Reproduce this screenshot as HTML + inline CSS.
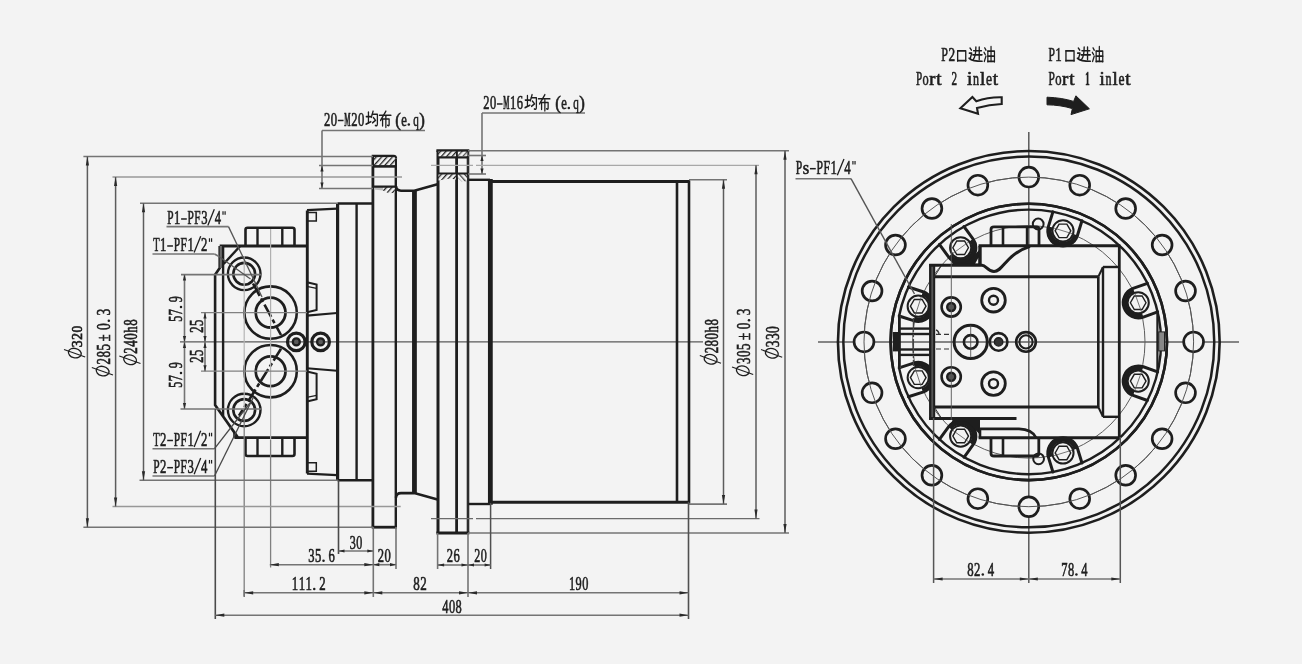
<!DOCTYPE html>
<html><head><meta charset="utf-8"><title>Drawing</title>
<style>
html,body{margin:0;padding:0;background:#f3f3f3;}
body{width:1302px;height:664px;overflow:hidden;}
svg{display:block;filter:grayscale(1) blur(0.3px);}
text{font-family:"Liberation Serif",serif;}
</style></head><body>
<svg width="1302" height="664" viewBox="0 0 1302 664">
<rect x="0" y="0" width="1302" height="664" fill="#f3f3f3"/>
<g id="side">
<defs><pattern id="hat" width="4" height="4" patternUnits="userSpaceOnUse" patternTransform="rotate(42)"><rect width="4" height="4" fill="#f3f3f3"/><line x1="0" y1="0" x2="0" y2="4" stroke="#222" stroke-width="2.6"/></pattern><pattern id="hat2" width="4" height="4" patternUnits="userSpaceOnUse" patternTransform="rotate(-42)"><rect width="4" height="4" fill="#f3f3f3"/><line x1="0" y1="0" x2="0" y2="4" stroke="#222" stroke-width="2.6"/></pattern></defs>
<line x1="180.00" y1="341.90" x2="703.00" y2="341.90" stroke="#5a5a5a" stroke-width="1.4" />
<path d="M245.5,245.50 V229.70 Q245.5,227.80 247.6,227.80 H292.4 Q294.5,227.80 294.5,229.70 V245.50" stroke="#1e1e1e" stroke-width="2.6" fill="none" />
<line x1="257.50" y1="228.00" x2="257.50" y2="245.50" stroke="#1e1e1e" stroke-width="2.4" />
<line x1="282.30" y1="228.00" x2="282.30" y2="245.50" stroke="#1e1e1e" stroke-width="2.4" />
<path d="M245.5,438.30 V454.10 Q245.5,456.00 247.6,456.00 H292.4 Q294.5,456.00 294.5,454.10 V438.30" stroke="#1e1e1e" stroke-width="2.6" fill="none" />
<line x1="257.50" y1="455.80" x2="257.50" y2="438.30" stroke="#1e1e1e" stroke-width="2.4" />
<line x1="282.30" y1="455.80" x2="282.30" y2="438.30" stroke="#1e1e1e" stroke-width="2.4" />
<line x1="219.70" y1="246.00" x2="307.00" y2="246.00" stroke="#1e1e1e" stroke-width="2.8" />
<path d="M219.7,246 V268 L215.1,274.7 V405 L238,437.6 H307 M238,437.6 H234.4" stroke="#1e1e1e" stroke-width="2.6" fill="none" />
<rect x="219.7" y="246" width="3.4" height="22" fill="#6a6a6a"/>
<line x1="223.10" y1="246.00" x2="223.10" y2="416.00" stroke="#1e1e1e" stroke-width="2.4" />
<line x1="240.20" y1="246.00" x2="223.60" y2="264.00" stroke="#1e1e1e" stroke-width="2.4" />
<line x1="234.40" y1="432.40" x2="234.40" y2="437.60" stroke="#1e1e1e" stroke-width="2.4" />
<line x1="307.30" y1="210.40" x2="307.30" y2="473.40" stroke="#1e1e1e" stroke-width="2.9" />
<line x1="307.00" y1="210.20" x2="337.00" y2="208.60" stroke="#1e1e1e" stroke-width="2.2" />
<path d="M307,221.00 H316.3 V212.60 H307" stroke="#1e1e1e" stroke-width="1.5" fill="none" />
<path d="M307,282.30 L316.6,284.60 V310.00 L307,312.30" stroke="#1e1e1e" stroke-width="2.0" fill="none" />
<line x1="308.00" y1="286.60" x2="316.60" y2="288.40" stroke="#1e1e1e" stroke-width="1.3" />
<line x1="307.00" y1="315.60" x2="337.00" y2="313.00" stroke="#1e1e1e" stroke-width="2.1" />
<line x1="337.60" y1="203.50" x2="372.90" y2="203.50" stroke="#1e1e1e" stroke-width="2.4" />
<line x1="307.00" y1="473.60" x2="337.00" y2="475.20" stroke="#1e1e1e" stroke-width="2.2" />
<path d="M307,462.80 H316.3 V471.20 H307" stroke="#1e1e1e" stroke-width="1.5" fill="none" />
<path d="M307,401.50 L316.6,399.20 V373.80 L307,371.50" stroke="#1e1e1e" stroke-width="2.0" fill="none" />
<line x1="308.00" y1="397.20" x2="316.60" y2="395.40" stroke="#1e1e1e" stroke-width="1.3" />
<line x1="307.00" y1="368.20" x2="337.00" y2="370.80" stroke="#1e1e1e" stroke-width="2.1" />
<line x1="337.60" y1="480.30" x2="372.90" y2="480.30" stroke="#1e1e1e" stroke-width="2.4" />
<line x1="337.60" y1="203.50" x2="337.60" y2="480.30" stroke="#1e1e1e" stroke-width="3.1999999999999997" />
<line x1="356.60" y1="203.50" x2="356.60" y2="480.30" stroke="#1e1e1e" stroke-width="2.4" />
<line x1="372.90" y1="156.00" x2="372.90" y2="527.20" stroke="#1e1e1e" stroke-width="2.8" />
<line x1="395.80" y1="158.40" x2="395.80" y2="527.20" stroke="#1e1e1e" stroke-width="2.4" />
<path d="M371.7,156.2 H393.6 Q395.8,156.2 395.8,158.6" stroke="#1e1e1e" stroke-width="2.8" fill="none" />
<line x1="371.70" y1="527.20" x2="396.90" y2="527.20" stroke="#1e1e1e" stroke-width="2.8" />
<rect x="374" y="157.2" width="20.8" height="8.6" fill="url(#hat)"/>
<line x1="372.90" y1="166.40" x2="395.80" y2="166.40" stroke="#1e1e1e" stroke-width="2.6" />
<line x1="372.90" y1="186.80" x2="395.80" y2="186.80" stroke="#1e1e1e" stroke-width="2.6" />
<path d="M383,187.8 H394.8 V192.6 L389,193.4 L383,190.4 Z" fill="url(#hat)"/><path d="M374,187.8 H383 V190.4 L374,189.6 Z" fill="#bdbdbd"/>
<path d="M396,186.2 Q396.3,190.7 401,190.7 H414.3 L437.5,184.3" stroke="#1e1e1e" stroke-width="2.6" fill="none" />
<path d="M396,497.60 Q396.3,493.10 401,493.10 H414.3 L437.5,499.50" stroke="#1e1e1e" stroke-width="2.6" fill="none" />
<line x1="414.45" y1="190.70" x2="414.45" y2="493.10" stroke="#1e1e1e" stroke-width="4.800000000000001" />
<line x1="438.00" y1="150.50" x2="438.00" y2="533.00" stroke="#1e1e1e" stroke-width="3.0" />
<line x1="456.60" y1="150.50" x2="456.60" y2="533.00" stroke="#1e1e1e" stroke-width="2.8" />
<line x1="468.00" y1="150.50" x2="468.00" y2="533.00" stroke="#2c2c2c" stroke-width="2.6" />
<line x1="436.40" y1="150.60" x2="469.30" y2="150.60" stroke="#1e1e1e" stroke-width="2.6" />
<line x1="436.40" y1="533.00" x2="469.30" y2="533.00" stroke="#1e1e1e" stroke-width="2.8" />
<rect x="438.5" y="151.5" width="17.5" height="5.3" fill="url(#hat)"/>
<rect x="457.8" y="151.5" width="9.6" height="4.6" fill="url(#hat)" opacity="0.75"/>
<line x1="437.50" y1="157.40" x2="468.30" y2="157.40" stroke="#1e1e1e" stroke-width="2.2" />
<line x1="437.50" y1="173.70" x2="468.30" y2="173.70" stroke="#1e1e1e" stroke-width="2.4" />
<path d="M438.5,174.6 H456 V179.5 L450,178.5 L438.5,180.5 Z" fill="url(#hat)"/>
<path d="M457.8,174.6 H467 V181 L462,182 L457.8,178 Z" fill="url(#hat2)" opacity="0.85"/>
<line x1="468.30" y1="179.80" x2="490.00" y2="179.80" stroke="#1e1e1e" stroke-width="2.4" />
<line x1="468.30" y1="504.00" x2="490.00" y2="504.00" stroke="#1e1e1e" stroke-width="2.4" />
<line x1="490.35" y1="179.00" x2="490.35" y2="504.80" stroke="#1e1e1e" stroke-width="4.800000000000001" />
<line x1="489.00" y1="181.50" x2="690.00" y2="181.50" stroke="#1e1e1e" stroke-width="3.0" />
<line x1="489.00" y1="502.30" x2="690.00" y2="502.30" stroke="#1e1e1e" stroke-width="3.0" />
<line x1="677.00" y1="181.50" x2="677.00" y2="502.30" stroke="#1e1e1e" stroke-width="2.6" />
<line x1="689.00" y1="180.40" x2="689.00" y2="503.40" stroke="#1e1e1e" stroke-width="2.6" />
<circle cx="244.20" cy="273.80" r="16.30" stroke="#1e1e1e" stroke-width="2.4" fill="none"/>
<circle cx="244.20" cy="273.80" r="10.90" stroke="#1e1e1e" stroke-width="2.6" fill="none"/>
<circle cx="270.60" cy="312.60" r="26.20" stroke="#1e1e1e" stroke-width="2.6" fill="none"/>
<circle cx="270.60" cy="312.60" r="14.90" stroke="#1e1e1e" stroke-width="2.8" fill="none"/>
<circle cx="244.20" cy="410.00" r="16.30" stroke="#1e1e1e" stroke-width="2.4" fill="none"/>
<circle cx="244.20" cy="410.00" r="10.90" stroke="#1e1e1e" stroke-width="2.6" fill="none"/>
<circle cx="270.60" cy="371.20" r="26.20" stroke="#1e1e1e" stroke-width="2.6" fill="none"/>
<circle cx="270.60" cy="371.20" r="14.90" stroke="#1e1e1e" stroke-width="2.8" fill="none"/>
<circle cx="296.30" cy="341.90" r="8.80" stroke="#1e1e1e" stroke-width="3.1999999999999997" fill="none"/>
<circle cx="296.30" cy="341.90" r="3.50" stroke="#1e1e1e" stroke-width="2.3" fill="#5a5a5a"/>
<circle cx="320.60" cy="341.90" r="8.80" stroke="#1e1e1e" stroke-width="3.1999999999999997" fill="none"/>
<circle cx="320.60" cy="341.90" r="3.50" stroke="#1e1e1e" stroke-width="2.3" fill="#5a5a5a"/>
<line x1="253.00" y1="283.50" x2="281.00" y2="335.00" stroke="#1e1e1e" stroke-width="2.6" stroke-dasharray="14 3 4 3"/>
<line x1="281.00" y1="348.80" x2="239.00" y2="415.80" stroke="#1e1e1e" stroke-width="2.6" stroke-dasharray="14 3 4 3"/>
<line x1="244.20" y1="256.00" x2="244.20" y2="409.00" stroke="#b4b4b4" stroke-width="1.2" />
<line x1="244.20" y1="409.00" x2="244.20" y2="596.00" stroke="#808080" stroke-width="1.3" />
<line x1="270.60" y1="229.00" x2="270.60" y2="440.00" stroke="#b0b0b0" stroke-width="1.2" />
<line x1="270.60" y1="440.00" x2="270.60" y2="567.50" stroke="#808080" stroke-width="1.3" />
<line x1="201.00" y1="312.60" x2="307.00" y2="312.60" stroke="#808080" stroke-width="1.3" />
<line x1="201.00" y1="371.20" x2="307.00" y2="371.20" stroke="#808080" stroke-width="1.3" />
</g>
<g id="front">
<line x1="818.00" y1="341.90" x2="1239.00" y2="341.90" stroke="#606060" stroke-width="1.5" />
<line x1="1028.80" y1="132.00" x2="1028.80" y2="583.00" stroke="#585858" stroke-width="1.5" />
<circle cx="1028.80" cy="341.90" r="190.85" stroke="#1e1e1e" stroke-width="2.6" fill="none"/>
<circle cx="1028.80" cy="341.90" r="185.45" stroke="#1e1e1e" stroke-width="2.5" fill="none"/>
<circle cx="1028.80" cy="341.90" r="164.80" stroke="#555" stroke-width="1.0" fill="none"/>
<circle cx="1193.60" cy="341.90" r="9.90" stroke="#1e1e1e" stroke-width="2.6999999999999997" fill="#f3f3f3"/>
<circle cx="1185.53" cy="290.97" r="9.90" stroke="#1e1e1e" stroke-width="2.6999999999999997" fill="#f3f3f3"/>
<circle cx="1162.13" cy="245.03" r="9.90" stroke="#1e1e1e" stroke-width="2.6999999999999997" fill="#f3f3f3"/>
<circle cx="1125.67" cy="208.57" r="9.90" stroke="#1e1e1e" stroke-width="2.6999999999999997" fill="#f3f3f3"/>
<circle cx="1079.73" cy="185.17" r="9.90" stroke="#1e1e1e" stroke-width="2.6999999999999997" fill="#f3f3f3"/>
<circle cx="1028.80" cy="177.10" r="9.90" stroke="#1e1e1e" stroke-width="2.6999999999999997" fill="#f3f3f3"/>
<circle cx="977.87" cy="185.17" r="9.90" stroke="#1e1e1e" stroke-width="2.6999999999999997" fill="#f3f3f3"/>
<circle cx="931.93" cy="208.57" r="9.90" stroke="#1e1e1e" stroke-width="2.6999999999999997" fill="#f3f3f3"/>
<circle cx="895.47" cy="245.03" r="9.90" stroke="#1e1e1e" stroke-width="2.6999999999999997" fill="#f3f3f3"/>
<circle cx="872.07" cy="290.97" r="9.90" stroke="#1e1e1e" stroke-width="2.6999999999999997" fill="#f3f3f3"/>
<circle cx="864.00" cy="341.90" r="9.90" stroke="#1e1e1e" stroke-width="2.6999999999999997" fill="#f3f3f3"/>
<circle cx="872.07" cy="392.83" r="9.90" stroke="#1e1e1e" stroke-width="2.6999999999999997" fill="#f3f3f3"/>
<circle cx="895.47" cy="438.77" r="9.90" stroke="#1e1e1e" stroke-width="2.6999999999999997" fill="#f3f3f3"/>
<circle cx="931.93" cy="475.23" r="9.90" stroke="#1e1e1e" stroke-width="2.6999999999999997" fill="#f3f3f3"/>
<circle cx="977.87" cy="498.63" r="9.90" stroke="#1e1e1e" stroke-width="2.6999999999999997" fill="#f3f3f3"/>
<circle cx="1028.80" cy="506.70" r="9.90" stroke="#1e1e1e" stroke-width="2.6999999999999997" fill="#f3f3f3"/>
<circle cx="1079.73" cy="498.63" r="9.90" stroke="#1e1e1e" stroke-width="2.6999999999999997" fill="#f3f3f3"/>
<circle cx="1125.67" cy="475.23" r="9.90" stroke="#1e1e1e" stroke-width="2.6999999999999997" fill="#f3f3f3"/>
<circle cx="1162.13" cy="438.77" r="9.90" stroke="#1e1e1e" stroke-width="2.6999999999999997" fill="#f3f3f3"/>
<circle cx="1185.53" cy="392.83" r="9.90" stroke="#1e1e1e" stroke-width="2.6999999999999997" fill="#f3f3f3"/>
<circle cx="1028.80" cy="341.90" r="164.80" stroke="#555" stroke-width="1.0" fill="none"/>
<circle cx="1028.80" cy="341.90" r="138.20" stroke="#1e1e1e" stroke-width="2.6" fill="none"/>
<circle cx="1028.80" cy="341.90" r="132.30" stroke="#1e1e1e" stroke-width="2.4" fill="none"/>
<circle cx="1028.80" cy="341.90" r="116.20" stroke="#5c5c5c" stroke-width="1.0" fill="none"/>
<path d="M1081.97,220.76 L1077.50,235.31 A15.2,15.2 0 0 1 1048.44,226.37 L1052.92,211.82" stroke="#1e1e1e" stroke-width="3.0" fill="none" stroke-linejoin="round" stroke-linecap="round"/>
<path d="M1075.97,234.84 A13.6,13.6 0 0 1 1049.97,226.84" stroke="#1e1e1e" stroke-width="4.800000000000001" fill="none" />
<circle cx="1062.97" cy="230.84" r="10.60" stroke="#1e1e1e" stroke-width="2.0" fill="#f3f3f3"/>
<polygon points="1070.77,230.84 1066.87,237.59 1059.07,237.59 1055.17,230.84 1059.07,224.08 1066.87,224.08" fill="none" stroke="#1e1e1e" stroke-width="1.4"/>
<line x1="1053.41" y1="227.90" x2="1072.53" y2="233.78" stroke="#555" stroke-width="0.8" />
<path d="M964.05,226.53 L972.98,238.86 A15.2,15.2 0 0 1 948.35,256.69 L939.42,244.35" stroke="#1e1e1e" stroke-width="3.0" fill="none" stroke-linejoin="round" stroke-linecap="round"/>
<path d="M971.68,239.80 A13.6,13.6 0 0 1 949.65,255.75" stroke="#1e1e1e" stroke-width="4.800000000000001" fill="none" />
<circle cx="960.66" cy="247.77" r="10.60" stroke="#1e1e1e" stroke-width="2.0" fill="#f3f3f3"/>
<polygon points="968.46,247.77 964.56,254.53 956.76,254.53 952.86,247.77 956.76,241.02 964.56,241.02" fill="none" stroke="#1e1e1e" stroke-width="1.4"/>
<line x1="952.56" y1="253.64" x2="968.76" y2="241.91" stroke="#555" stroke-width="0.8" />
<path d="M908.41,287.04 L922.90,291.72 A15.2,15.2 0 0 1 913.55,320.65 L899.07,315.97" stroke="#1e1e1e" stroke-width="3.0" fill="none" stroke-linejoin="round" stroke-linecap="round"/>
<path d="M922.40,293.24 A13.6,13.6 0 0 1 914.04,319.13" stroke="#1e1e1e" stroke-width="4.800000000000001" fill="none" />
<circle cx="918.22" cy="306.19" r="10.60" stroke="#1e1e1e" stroke-width="2.0" fill="#f3f3f3"/>
<polygon points="926.02,306.19 922.12,312.94 914.32,312.94 910.42,306.19 914.32,299.43 922.12,299.43" fill="none" stroke="#1e1e1e" stroke-width="1.4"/>
<line x1="915.15" y1="315.70" x2="921.30" y2="296.67" stroke="#555" stroke-width="0.8" />
<path d="M1157.66,311.91 L1143.32,317.04 A15.2,15.2 0 0 1 1133.08,288.42 L1147.41,283.29" stroke="#1e1e1e" stroke-width="3.0" fill="none" stroke-linejoin="round" stroke-linecap="round"/>
<path d="M1142.78,315.53 A13.6,13.6 0 0 1 1133.61,289.93" stroke="#1e1e1e" stroke-width="4.800000000000001" fill="none" />
<circle cx="1138.20" cy="302.73" r="10.60" stroke="#1e1e1e" stroke-width="2.0" fill="#f3f3f3"/>
<polygon points="1146.00,302.73 1142.10,309.48 1134.30,309.48 1130.40,302.73 1134.30,295.97 1142.10,295.97" fill="none" stroke="#1e1e1e" stroke-width="1.4"/>
<line x1="1134.83" y1="293.31" x2="1141.57" y2="312.14" stroke="#555" stroke-width="0.8" />
<path d="M1052.92,471.98 L1048.44,457.43 A15.2,15.2 0 0 1 1077.50,448.49 L1081.97,463.04" stroke="#1e1e1e" stroke-width="3.0" fill="none" stroke-linejoin="round" stroke-linecap="round"/>
<path d="M1049.97,456.96 A13.6,13.6 0 0 1 1075.97,448.96" stroke="#1e1e1e" stroke-width="4.800000000000001" fill="none" />
<circle cx="1062.97" cy="452.96" r="10.60" stroke="#1e1e1e" stroke-width="2.0" fill="#f3f3f3"/>
<polygon points="1070.77,452.96 1066.87,459.72 1059.07,459.72 1055.17,452.96 1059.07,446.21 1066.87,446.21" fill="none" stroke="#1e1e1e" stroke-width="1.4"/>
<line x1="1072.53" y1="450.02" x2="1053.41" y2="455.90" stroke="#555" stroke-width="0.8" />
<path d="M939.42,439.45 L948.35,427.11 A15.2,15.2 0 0 1 972.98,444.94 L964.05,457.27" stroke="#1e1e1e" stroke-width="3.0" fill="none" stroke-linejoin="round" stroke-linecap="round"/>
<path d="M949.65,428.05 A13.6,13.6 0 0 1 971.68,444.00" stroke="#1e1e1e" stroke-width="4.800000000000001" fill="none" />
<circle cx="960.66" cy="436.03" r="10.60" stroke="#1e1e1e" stroke-width="2.0" fill="#f3f3f3"/>
<polygon points="968.46,436.03 964.56,442.78 956.76,442.78 952.86,436.03 956.76,429.27 964.56,429.27" fill="none" stroke="#1e1e1e" stroke-width="1.4"/>
<line x1="968.76" y1="441.89" x2="952.56" y2="430.16" stroke="#555" stroke-width="0.8" />
<path d="M899.07,367.83 L913.55,363.15 A15.2,15.2 0 0 1 922.90,392.08 L908.41,396.76" stroke="#1e1e1e" stroke-width="3.0" fill="none" stroke-linejoin="round" stroke-linecap="round"/>
<path d="M914.04,364.67 A13.6,13.6 0 0 1 922.40,390.56" stroke="#1e1e1e" stroke-width="4.800000000000001" fill="none" />
<circle cx="918.22" cy="377.61" r="10.60" stroke="#1e1e1e" stroke-width="2.0" fill="#f3f3f3"/>
<polygon points="926.02,377.61 922.12,384.37 914.32,384.37 910.42,377.61 914.32,370.86 922.12,370.86" fill="none" stroke="#1e1e1e" stroke-width="1.4"/>
<line x1="921.30" y1="387.13" x2="915.15" y2="368.10" stroke="#555" stroke-width="0.8" />
<path d="M1147.41,400.51 L1133.08,395.38 A15.2,15.2 0 0 1 1143.32,366.76 L1157.66,371.89" stroke="#1e1e1e" stroke-width="3.0" fill="none" stroke-linejoin="round" stroke-linecap="round"/>
<path d="M1133.61,393.87 A13.6,13.6 0 0 1 1142.78,368.27" stroke="#1e1e1e" stroke-width="4.800000000000001" fill="none" />
<circle cx="1138.20" cy="381.07" r="10.60" stroke="#1e1e1e" stroke-width="2.0" fill="#f3f3f3"/>
<polygon points="1146.00,381.07 1142.10,387.83 1134.30,387.83 1130.40,381.07 1134.30,374.32 1142.10,374.32" fill="none" stroke="#1e1e1e" stroke-width="1.4"/>
<line x1="1141.57" y1="371.66" x2="1134.83" y2="390.49" stroke="#555" stroke-width="0.8" />
<path d="M950.9,259.2 A15.2,15.2 0 0 0 972.3,257.4 L980,249 V265.2 H953 Z" fill="#1e1e1e"/>
<path d="M975.2,263.6 L978.6,257.6 V263.6 Z" fill="#f3f3f3"/>
<path d="M950.9,424.60 A15.2,15.2 0 0 1 972.3,426.40 L980,434.80 V418.60 H953 Z" fill="#1e1e1e"/>
<circle cx="1028.80" cy="341.90" r="138.20" stroke="#1e1e1e" stroke-width="2.6" fill="none"/>
<rect x="929.4" y="264.2" width="5" height="155.40" fill="#555"/>
<line x1="930.20" y1="264.00" x2="930.20" y2="419.80" stroke="#1e1e1e" stroke-width="2.2" />
<line x1="934.20" y1="264.00" x2="934.20" y2="419.80" stroke="#1e1e1e" stroke-width="2.0" />
<line x1="934.00" y1="276.80" x2="1098.30" y2="276.80" stroke="#1e1e1e" stroke-width="3.0" />
<line x1="934.00" y1="407.00" x2="1098.30" y2="407.00" stroke="#1e1e1e" stroke-width="3.0" />
<line x1="934.50" y1="276.50" x2="941.50" y2="265.50" stroke="#333" stroke-width="1" />
<line x1="934.50" y1="407.30" x2="941.50" y2="418.30" stroke="#333" stroke-width="1" />
<path d="M929.2,265.2 H982 C986,265.4 988,271.6 994,271.6 C1003,271.6 1006,254 1030,246.4" stroke="#1e1e1e" stroke-width="3.0" fill="none" />
<line x1="978.60" y1="245.80" x2="1120.40" y2="245.80" stroke="#1e1e1e" stroke-width="3.0" />
<line x1="980.00" y1="245.80" x2="980.00" y2="265.20" stroke="#1e1e1e" stroke-width="3.4" />
<line x1="929.20" y1="418.60" x2="1016.50" y2="418.60" stroke="#1e1e1e" stroke-width="3.0" />
<path d="M980,437.8 V428.9 H1019 C1028,429.2 1033.5,432.5 1036,437.6" stroke="#1e1e1e" stroke-width="2.6" fill="none" />
<line x1="978.60" y1="437.70" x2="1120.40" y2="437.70" stroke="#1e1e1e" stroke-width="3.0" />
<line x1="1119.30" y1="245.80" x2="1119.30" y2="437.70" stroke="#1e1e1e" stroke-width="2.8" />
<line x1="1098.30" y1="276.80" x2="1098.30" y2="407.00" stroke="#1e1e1e" stroke-width="2.6" />
<line x1="1103.00" y1="267.00" x2="1103.00" y2="416.80" stroke="#1e1e1e" stroke-width="2.4" />
<line x1="1103.00" y1="267.00" x2="1119.30" y2="267.00" stroke="#1e1e1e" stroke-width="2.4" />
<line x1="1103.00" y1="416.80" x2="1119.30" y2="416.80" stroke="#1e1e1e" stroke-width="2.4" />
<line x1="1098.30" y1="276.80" x2="1103.00" y2="267.00" stroke="#1e1e1e" stroke-width="2.0" />
<line x1="1098.30" y1="407.00" x2="1103.00" y2="416.80" stroke="#1e1e1e" stroke-width="2.0" />
<path d="M991,245.8 V229.6 Q991,226.9 994,226.9 H1036.5 Q1039,226.9 1039,229.6 V245.8" stroke="#1e1e1e" stroke-width="2.8" fill="none" />
<line x1="1003.00" y1="227.00" x2="1003.00" y2="245.80" stroke="#1e1e1e" stroke-width="2.6" />
<line x1="1027.00" y1="227.00" x2="1027.00" y2="245.80" stroke="#1e1e1e" stroke-width="2.4" />
<circle cx="1038.20" cy="224.00" r="5.40" stroke="#1e1e1e" stroke-width="2.0" fill="none"/>
<path d="M991,437.7 V453.4 Q991,456 994,456 H1036 Q1038.8,456 1038.8,453.4 V437.7" stroke="#1e1e1e" stroke-width="2.8" fill="none" />
<line x1="1003.00" y1="437.70" x2="1003.00" y2="456.00" stroke="#1e1e1e" stroke-width="2.6" />
<circle cx="1038.60" cy="458.80" r="5.40" stroke="#1e1e1e" stroke-width="2.0" fill="none"/>
<circle cx="951.20" cy="307.00" r="9.60" stroke="#1e1e1e" stroke-width="2.6" fill="none"/>
<circle cx="951.20" cy="307.00" r="4.00" stroke="#1e1e1e" stroke-width="2.4" fill="#555"/>
<circle cx="993.50" cy="300.20" r="11.80" stroke="#1e1e1e" stroke-width="2.8" fill="none"/>
<circle cx="993.50" cy="300.20" r="4.50" stroke="#1e1e1e" stroke-width="2.4" fill="none"/>
<circle cx="951.20" cy="376.80" r="9.60" stroke="#1e1e1e" stroke-width="2.6" fill="none"/>
<circle cx="951.20" cy="376.80" r="4.00" stroke="#1e1e1e" stroke-width="2.4" fill="#555"/>
<circle cx="993.50" cy="383.60" r="11.80" stroke="#1e1e1e" stroke-width="2.8" fill="none"/>
<circle cx="993.50" cy="383.60" r="4.50" stroke="#1e1e1e" stroke-width="2.4" fill="none"/>
<circle cx="970.70" cy="341.90" r="16.60" stroke="#1e1e1e" stroke-width="3.0" fill="none"/>
<circle cx="970.70" cy="341.90" r="6.80" stroke="#1e1e1e" stroke-width="2.6" fill="none"/>
<line x1="970.70" y1="325.00" x2="970.70" y2="358.00" stroke="#444" stroke-width="0.8" />
<circle cx="998.60" cy="341.90" r="8.80" stroke="#1e1e1e" stroke-width="2.6" fill="none"/>
<circle cx="998.60" cy="341.90" r="4.20" stroke="#1e1e1e" stroke-width="1.4" fill="#333"/>
<circle cx="1026.00" cy="341.90" r="9.80" stroke="#1e1e1e" stroke-width="2.6" fill="none"/>
<circle cx="1026.00" cy="341.90" r="6.60" stroke="#1e1e1e" stroke-width="2.0" fill="none"/>
<line x1="951.30" y1="224.00" x2="951.30" y2="420.00" stroke="#555" stroke-width="0.9" />
<line x1="936.00" y1="334.30" x2="951.00" y2="334.30" stroke="#333" stroke-width="1.2" stroke-dasharray="5 3"/>
<line x1="936.00" y1="349.00" x2="951.00" y2="349.00" stroke="#333" stroke-width="1.2" stroke-dasharray="5 3"/>
<path d="M936,330 q3,1 3,5" stroke="#333" stroke-width="1.4" fill="none" />
<path d="M899.16,315.52 A132.3,132.3 0 0 0 899.16,368.28" fill="none" stroke="#f3f3f3" stroke-width="3.4"/>
<line x1="899.40" y1="315.00" x2="899.40" y2="369.00" stroke="#1e1e1e" stroke-width="2.8" />
<rect x="892.8" y="332" width="7.4" height="19.4" fill="#1e1e1e"/>
<line x1="900.00" y1="328.60" x2="930.00" y2="328.60" stroke="#1e1e1e" stroke-width="2.4" />
<line x1="900.00" y1="334.00" x2="930.00" y2="334.00" stroke="#1e1e1e" stroke-width="2.4" />
<line x1="900.00" y1="349.50" x2="930.00" y2="349.50" stroke="#1e1e1e" stroke-width="2.4" />
<line x1="900.00" y1="354.90" x2="930.00" y2="354.90" stroke="#1e1e1e" stroke-width="2.4" />
<line x1="913.40" y1="318.00" x2="913.40" y2="366.00" stroke="#444" stroke-width="1.3" stroke-dasharray="14 2 3 2"/>
<line x1="1157.40" y1="313.70" x2="1157.40" y2="370.60" stroke="#1e1e1e" stroke-width="2.2" />
<rect x="1158.7" y="331.9" width="5.8" height="19" fill="#888" stroke="#222" stroke-width="1"/>
</g>
<g id="labels">
<line x1="83.40" y1="156.50" x2="373.00" y2="156.50" stroke="#747474" stroke-width="1.6" />
<line x1="83.40" y1="527.20" x2="373.00" y2="527.20" stroke="#747474" stroke-width="1.6" />
<line x1="87.40" y1="156.50" x2="87.40" y2="527.20" stroke="#5c5c5c" stroke-width="1.5" />
<polygon points="87.40,156.50 89.00,165.50 85.80,165.50" fill="#2a2a2a"/>
<polygon points="87.40,527.20 85.80,518.20 89.00,518.20" fill="#2a2a2a"/>
<line x1="112.50" y1="177.10" x2="402.00" y2="177.10" stroke="#989898" stroke-width="1.5" />
<line x1="112.50" y1="506.60" x2="400.70" y2="506.60" stroke="#989898" stroke-width="1.5" />
<line x1="115.60" y1="177.10" x2="115.60" y2="506.60" stroke="#5c5c5c" stroke-width="1.5" />
<polygon points="115.60,177.10 117.20,186.10 114.00,186.10" fill="#2a2a2a"/>
<polygon points="115.60,506.60 114.00,497.60 117.20,497.60" fill="#2a2a2a"/>
<line x1="140.00" y1="203.30" x2="338.00" y2="203.30" stroke="#747474" stroke-width="1.6" />
<line x1="139.50" y1="480.30" x2="338.00" y2="480.30" stroke="#747474" stroke-width="1.6" />
<line x1="143.50" y1="203.30" x2="143.50" y2="480.30" stroke="#5c5c5c" stroke-width="1.5" />
<polygon points="143.50,203.30 145.10,212.30 141.90,212.30" fill="#2a2a2a"/>
<polygon points="143.50,480.30 141.90,471.30 145.10,471.30" fill="#2a2a2a"/>
<ellipse cx="74.80" cy="353.10" rx="6.5" ry="4.7" transform="rotate(14 74.80 353.10)" fill="none" stroke="#1e1e1e" stroke-width="1.3"/>
<line x1="64.00" y1="349.40" x2="85.20" y2="357.00" stroke="#1e1e1e" stroke-width="1.1" />
<g transform="translate(82.00,347.40) rotate(-90)"><text x="0.26" y="0.00" font-size="14.5" textLength="6.79" lengthAdjust="spacingAndGlyphs" fill="#1e1e1e" stroke="#1e1e1e" stroke-width="0.65">3</text><text x="7.56" y="0.00" font-size="14.5" textLength="6.79" lengthAdjust="spacingAndGlyphs" fill="#1e1e1e" stroke="#1e1e1e" stroke-width="0.65">2</text><text x="14.86" y="0.00" font-size="14.5" textLength="6.79" lengthAdjust="spacingAndGlyphs" fill="#1e1e1e" stroke="#1e1e1e" stroke-width="0.65">0</text></g>
<ellipse cx="102.60" cy="371.10" rx="6.5" ry="4.7" transform="rotate(14 102.60 371.10)" fill="none" stroke="#1e1e1e" stroke-width="1.3"/>
<line x1="91.80" y1="367.40" x2="113.00" y2="375.00" stroke="#1e1e1e" stroke-width="1.1" />
<g transform="translate(109.80,364.80) rotate(-90)"><text x="0.24" y="0.00" font-size="19" textLength="6.51" lengthAdjust="spacingAndGlyphs" fill="#1e1e1e" stroke="#1e1e1e" stroke-width="0.65">2</text><text x="7.24" y="0.00" font-size="19" textLength="6.51" lengthAdjust="spacingAndGlyphs" fill="#1e1e1e" stroke="#1e1e1e" stroke-width="0.65">8</text><text x="14.24" y="0.00" font-size="19" textLength="6.51" lengthAdjust="spacingAndGlyphs" fill="#1e1e1e" stroke="#1e1e1e" stroke-width="0.65">5</text></g>
<g transform="translate(109.80,341.40) rotate(-90)"><text x="0.26" y="0.00" font-size="19" textLength="6.88" lengthAdjust="spacingAndGlyphs" fill="#1e1e1e" stroke="#1e1e1e" stroke-width="0.65">±</text></g>
<g transform="translate(109.80,330.30) rotate(-90)"><text x="0.26" y="0.00" font-size="19" textLength="6.82" lengthAdjust="spacingAndGlyphs" fill="#1e1e1e" stroke="#1e1e1e" stroke-width="0.65">0</text><circle cx="9.53" cy="-1.00" r="1.25" fill="#1e1e1e"/><text x="14.92" y="0.00" font-size="19" textLength="6.82" lengthAdjust="spacingAndGlyphs" fill="#1e1e1e" stroke="#1e1e1e" stroke-width="0.65">3</text></g>
<ellipse cx="130.10" cy="359.70" rx="6.5" ry="4.7" transform="rotate(14 130.10 359.70)" fill="none" stroke="#1e1e1e" stroke-width="1.3"/>
<line x1="119.30" y1="356.00" x2="140.50" y2="363.60" stroke="#1e1e1e" stroke-width="1.1" />
<g transform="translate(137.30,354.00) rotate(-90)"><text x="0.24" y="0.00" font-size="19" textLength="6.51" lengthAdjust="spacingAndGlyphs" fill="#1e1e1e" stroke="#1e1e1e" stroke-width="0.65">2</text><text x="7.24" y="0.00" font-size="19" textLength="6.51" lengthAdjust="spacingAndGlyphs" fill="#1e1e1e" stroke="#1e1e1e" stroke-width="0.65">4</text><text x="14.24" y="0.00" font-size="19" textLength="6.51" lengthAdjust="spacingAndGlyphs" fill="#1e1e1e" stroke="#1e1e1e" stroke-width="0.65">0</text><text x="21.25" y="0.00" font-size="19" textLength="6.51" lengthAdjust="spacingAndGlyphs" fill="#1e1e1e" stroke="#1e1e1e" stroke-width="0.65">h</text><text x="28.25" y="0.00" font-size="19" textLength="6.51" lengthAdjust="spacingAndGlyphs" fill="#1e1e1e" stroke="#1e1e1e" stroke-width="0.65">8</text></g>
<line x1="181.00" y1="274.60" x2="261.00" y2="274.60" stroke="#747474" stroke-width="1.6" />
<line x1="180.50" y1="409.00" x2="261.00" y2="409.00" stroke="#747474" stroke-width="1.6" />
<line x1="184.50" y1="274.50" x2="184.50" y2="409.00" stroke="#747474" stroke-width="1.6" />
<polygon points="184.50,274.50 186.10,280.50 182.90,280.50" fill="#2a2a2a"/>
<polygon points="184.50,341.90 182.90,335.90 186.10,335.90" fill="#2a2a2a"/>
<polygon points="184.50,341.90 186.10,347.90 182.90,347.90" fill="#2a2a2a"/>
<polygon points="184.50,409.00 182.90,403.00 186.10,403.00" fill="#2a2a2a"/>
<line x1="205.00" y1="312.60" x2="205.00" y2="371.20" stroke="#747474" stroke-width="1.6" />
<polygon points="205.00,312.60 206.60,318.60 203.40,318.60" fill="#2a2a2a"/>
<polygon points="205.00,341.90 203.40,335.90 206.60,335.90" fill="#2a2a2a"/>
<polygon points="205.00,341.90 206.60,347.90 203.40,347.90" fill="#2a2a2a"/>
<polygon points="205.00,371.20 203.40,365.20 206.60,365.20" fill="#2a2a2a"/>
<g transform="translate(182.00,322.00) rotate(-90)"><text x="0.23" y="0.00" font-size="19" textLength="6.04" lengthAdjust="spacingAndGlyphs" fill="#1e1e1e" stroke="#1e1e1e" stroke-width="0.65">5</text><text x="6.73" y="0.00" font-size="19" textLength="6.04" lengthAdjust="spacingAndGlyphs" fill="#1e1e1e" stroke="#1e1e1e" stroke-width="0.65">7</text><circle cx="14.95" cy="-1.00" r="1.25" fill="#1e1e1e"/><text x="19.73" y="0.00" font-size="19" textLength="6.04" lengthAdjust="spacingAndGlyphs" fill="#1e1e1e" stroke="#1e1e1e" stroke-width="0.65">9</text></g>
<g transform="translate(182.00,388.00) rotate(-90)"><text x="0.23" y="0.00" font-size="19" textLength="6.04" lengthAdjust="spacingAndGlyphs" fill="#1e1e1e" stroke="#1e1e1e" stroke-width="0.65">5</text><text x="6.73" y="0.00" font-size="19" textLength="6.04" lengthAdjust="spacingAndGlyphs" fill="#1e1e1e" stroke="#1e1e1e" stroke-width="0.65">7</text><circle cx="14.95" cy="-1.00" r="1.25" fill="#1e1e1e"/><text x="19.73" y="0.00" font-size="19" textLength="6.04" lengthAdjust="spacingAndGlyphs" fill="#1e1e1e" stroke="#1e1e1e" stroke-width="0.65">9</text></g>
<g transform="translate(203.00,333.00) rotate(-90)"><text x="0.24" y="0.00" font-size="19" textLength="6.28" lengthAdjust="spacingAndGlyphs" fill="#1e1e1e" stroke="#1e1e1e" stroke-width="0.65">2</text><text x="6.99" y="0.00" font-size="19" textLength="6.28" lengthAdjust="spacingAndGlyphs" fill="#1e1e1e" stroke="#1e1e1e" stroke-width="0.65">5</text></g>
<g transform="translate(203.00,363.00) rotate(-90)"><text x="0.24" y="0.00" font-size="19" textLength="6.28" lengthAdjust="spacingAndGlyphs" fill="#1e1e1e" stroke="#1e1e1e" stroke-width="0.65">2</text><text x="6.99" y="0.00" font-size="19" textLength="6.28" lengthAdjust="spacingAndGlyphs" fill="#1e1e1e" stroke="#1e1e1e" stroke-width="0.65">5</text></g>
<text x="167.24" y="224.00" font-size="19" textLength="6.30" lengthAdjust="spacingAndGlyphs" fill="#1e1e1e" stroke="#1e1e1e" stroke-width="0.65">P</text><text x="174.01" y="224.00" font-size="19" textLength="6.30" lengthAdjust="spacingAndGlyphs" fill="#1e1e1e" stroke="#1e1e1e" stroke-width="0.65">1</text><line x1="181.10" y1="218.98" x2="186.79" y2="218.98" stroke="#1e1e1e" stroke-width="1.5"/><text x="187.57" y="224.00" font-size="19" textLength="6.30" lengthAdjust="spacingAndGlyphs" fill="#1e1e1e" stroke="#1e1e1e" stroke-width="0.65">P</text><text x="194.35" y="224.00" font-size="19" textLength="6.30" lengthAdjust="spacingAndGlyphs" fill="#1e1e1e" stroke="#1e1e1e" stroke-width="0.65">F</text><text x="201.13" y="224.00" font-size="19" textLength="6.30" lengthAdjust="spacingAndGlyphs" fill="#1e1e1e" stroke="#1e1e1e" stroke-width="0.65">3</text><line x1="207.80" y1="225.60" x2="214.31" y2="209.26" stroke="#1e1e1e" stroke-width="1.3"/><text x="214.68" y="224.00" font-size="19" textLength="6.30" lengthAdjust="spacingAndGlyphs" fill="#1e1e1e" stroke="#1e1e1e" stroke-width="0.65">4</text><line x1="223.01" y1="211.26" x2="223.01" y2="214.86" stroke="#1e1e1e" stroke-width="1.2"/><line x1="225.11" y1="211.26" x2="225.11" y2="214.86" stroke="#1e1e1e" stroke-width="1.2"/>
<line x1="166.50" y1="226.60" x2="228.50" y2="226.60" stroke="#747474" stroke-width="1.6" />
<line x1="228.50" y1="226.60" x2="262.00" y2="297.00" stroke="#555" stroke-width="1.3" />
<text x="153.24" y="251.00" font-size="19" textLength="6.36" lengthAdjust="spacingAndGlyphs" fill="#1e1e1e" stroke="#1e1e1e" stroke-width="0.65">T</text><text x="160.07" y="251.00" font-size="19" textLength="6.36" lengthAdjust="spacingAndGlyphs" fill="#1e1e1e" stroke="#1e1e1e" stroke-width="0.65">1</text><line x1="167.21" y1="245.98" x2="172.95" y2="245.98" stroke="#1e1e1e" stroke-width="1.5"/><text x="173.74" y="251.00" font-size="19" textLength="6.36" lengthAdjust="spacingAndGlyphs" fill="#1e1e1e" stroke="#1e1e1e" stroke-width="0.65">P</text><text x="180.57" y="251.00" font-size="19" textLength="6.36" lengthAdjust="spacingAndGlyphs" fill="#1e1e1e" stroke="#1e1e1e" stroke-width="0.65">F</text><text x="187.41" y="251.00" font-size="19" textLength="6.36" lengthAdjust="spacingAndGlyphs" fill="#1e1e1e" stroke="#1e1e1e" stroke-width="0.65">1</text><line x1="194.14" y1="252.60" x2="200.70" y2="236.26" stroke="#1e1e1e" stroke-width="1.3"/><text x="201.07" y="251.00" font-size="19" textLength="6.36" lengthAdjust="spacingAndGlyphs" fill="#1e1e1e" stroke="#1e1e1e" stroke-width="0.65">2</text><line x1="209.48" y1="238.26" x2="209.48" y2="241.86" stroke="#1e1e1e" stroke-width="1.2"/><line x1="211.58" y1="238.26" x2="211.58" y2="241.86" stroke="#1e1e1e" stroke-width="1.2"/>
<line x1="152.50" y1="254.00" x2="214.50" y2="254.00" stroke="#747474" stroke-width="1.6" />
<line x1="214.50" y1="254.00" x2="219.00" y2="256.50" stroke="#747474" stroke-width="1.6" />
<line x1="219.00" y1="256.50" x2="250.50" y2="279.00" stroke="#555" stroke-width="1.3" />
<text x="153.24" y="445.50" font-size="19" textLength="6.36" lengthAdjust="spacingAndGlyphs" fill="#1e1e1e" stroke="#1e1e1e" stroke-width="0.65">T</text><text x="160.07" y="445.50" font-size="19" textLength="6.36" lengthAdjust="spacingAndGlyphs" fill="#1e1e1e" stroke="#1e1e1e" stroke-width="0.65">2</text><line x1="167.21" y1="440.48" x2="172.95" y2="440.48" stroke="#1e1e1e" stroke-width="1.5"/><text x="173.74" y="445.50" font-size="19" textLength="6.36" lengthAdjust="spacingAndGlyphs" fill="#1e1e1e" stroke="#1e1e1e" stroke-width="0.65">P</text><text x="180.57" y="445.50" font-size="19" textLength="6.36" lengthAdjust="spacingAndGlyphs" fill="#1e1e1e" stroke="#1e1e1e" stroke-width="0.65">F</text><text x="187.41" y="445.50" font-size="19" textLength="6.36" lengthAdjust="spacingAndGlyphs" fill="#1e1e1e" stroke="#1e1e1e" stroke-width="0.65">1</text><line x1="194.14" y1="447.10" x2="200.70" y2="430.76" stroke="#1e1e1e" stroke-width="1.3"/><text x="201.07" y="445.50" font-size="19" textLength="6.36" lengthAdjust="spacingAndGlyphs" fill="#1e1e1e" stroke="#1e1e1e" stroke-width="0.65">2</text><line x1="209.48" y1="432.76" x2="209.48" y2="436.36" stroke="#1e1e1e" stroke-width="1.2"/><line x1="211.58" y1="432.76" x2="211.58" y2="436.36" stroke="#1e1e1e" stroke-width="1.2"/>
<line x1="152.50" y1="448.70" x2="214.50" y2="448.70" stroke="#747474" stroke-width="1.6" />
<line x1="214.50" y1="448.70" x2="250.00" y2="403.00" stroke="#484848" stroke-width="1.3" />
<text x="153.24" y="472.70" font-size="19" textLength="6.36" lengthAdjust="spacingAndGlyphs" fill="#1e1e1e" stroke="#1e1e1e" stroke-width="0.65">P</text><text x="160.07" y="472.70" font-size="19" textLength="6.36" lengthAdjust="spacingAndGlyphs" fill="#1e1e1e" stroke="#1e1e1e" stroke-width="0.65">2</text><line x1="167.21" y1="467.68" x2="172.95" y2="467.68" stroke="#1e1e1e" stroke-width="1.5"/><text x="173.74" y="472.70" font-size="19" textLength="6.36" lengthAdjust="spacingAndGlyphs" fill="#1e1e1e" stroke="#1e1e1e" stroke-width="0.65">P</text><text x="180.57" y="472.70" font-size="19" textLength="6.36" lengthAdjust="spacingAndGlyphs" fill="#1e1e1e" stroke="#1e1e1e" stroke-width="0.65">F</text><text x="187.41" y="472.70" font-size="19" textLength="6.36" lengthAdjust="spacingAndGlyphs" fill="#1e1e1e" stroke="#1e1e1e" stroke-width="0.65">3</text><line x1="194.14" y1="474.30" x2="200.70" y2="457.96" stroke="#1e1e1e" stroke-width="1.3"/><text x="201.07" y="472.70" font-size="19" textLength="6.36" lengthAdjust="spacingAndGlyphs" fill="#1e1e1e" stroke="#1e1e1e" stroke-width="0.65">4</text><line x1="209.48" y1="459.96" x2="209.48" y2="463.56" stroke="#1e1e1e" stroke-width="1.2"/><line x1="211.58" y1="459.96" x2="211.58" y2="463.56" stroke="#1e1e1e" stroke-width="1.2"/>
<line x1="152.50" y1="476.00" x2="214.50" y2="476.00" stroke="#747474" stroke-width="1.6" />
<line x1="214.50" y1="476.00" x2="253.50" y2="397.00" stroke="#484848" stroke-width="1.3" />
<line x1="322.00" y1="130.50" x2="425.00" y2="130.50" stroke="#747474" stroke-width="1.6" />
<line x1="322.00" y1="130.50" x2="322.00" y2="188.50" stroke="#747474" stroke-width="1.6" />
<line x1="319.00" y1="165.50" x2="373.00" y2="165.50" stroke="#747474" stroke-width="1.6" />
<line x1="319.00" y1="188.50" x2="373.00" y2="188.50" stroke="#747474" stroke-width="1.6" />
<polygon points="322.00,165.50 323.60,171.50 320.40,171.50" fill="#2a2a2a"/>
<polygon points="322.00,188.50 320.40,182.50 323.60,182.50" fill="#2a2a2a"/>
<line x1="482.00" y1="113.00" x2="585.00" y2="113.00" stroke="#747474" stroke-width="1.6" />
<line x1="482.00" y1="113.00" x2="482.00" y2="174.00" stroke="#747474" stroke-width="1.6" />
<line x1="468.00" y1="155.50" x2="486.00" y2="155.50" stroke="#747474" stroke-width="1.6" />
<line x1="468.00" y1="174.00" x2="486.00" y2="174.00" stroke="#747474" stroke-width="1.6" />
<polygon points="482.00,155.50 483.60,161.00 480.40,161.00" fill="#2a2a2a"/>
<polygon points="482.00,174.00 480.40,168.50 483.60,168.50" fill="#2a2a2a"/>
<line x1="689.00" y1="179.80" x2="727.00" y2="179.80" stroke="#747474" stroke-width="1.6" />
<line x1="689.00" y1="504.10" x2="727.00" y2="504.10" stroke="#747474" stroke-width="1.6" />
<line x1="723.50" y1="179.80" x2="723.50" y2="504.10" stroke="#5c5c5c" stroke-width="1.5" />
<polygon points="723.50,179.80 725.10,188.80 721.90,188.80" fill="#2a2a2a"/>
<polygon points="723.50,504.10 721.90,495.10 725.10,495.10" fill="#2a2a2a"/>
<line x1="431.00" y1="165.40" x2="473.00" y2="165.40" stroke="#a8a8a8" stroke-width="1.4" />
<line x1="476.00" y1="165.40" x2="759.00" y2="165.40" stroke="#a8a8a8" stroke-width="1.4" />
<line x1="431.00" y1="518.60" x2="473.00" y2="518.60" stroke="#6a6a6a" stroke-width="1.4" />
<line x1="476.00" y1="518.60" x2="759.50" y2="518.60" stroke="#6a6a6a" stroke-width="1.4" />
<line x1="756.00" y1="165.30" x2="756.00" y2="518.50" stroke="#5c5c5c" stroke-width="1.5" />
<polygon points="756.00,165.30 757.60,174.30 754.40,174.30" fill="#2a2a2a"/>
<polygon points="756.00,518.50 754.40,509.50 757.60,509.50" fill="#2a2a2a"/>
<line x1="468.00" y1="150.70" x2="789.00" y2="150.70" stroke="#747474" stroke-width="1.6" />
<line x1="468.00" y1="533.00" x2="789.00" y2="533.00" stroke="#747474" stroke-width="1.6" />
<line x1="785.00" y1="150.70" x2="785.00" y2="533.00" stroke="#5c5c5c" stroke-width="1.5" />
<polygon points="785.00,150.70 786.60,159.70 783.40,159.70" fill="#2a2a2a"/>
<polygon points="785.00,533.00 783.40,524.00 786.60,524.00" fill="#2a2a2a"/>
<ellipse cx="710.60" cy="359.30" rx="6.5" ry="4.7" transform="rotate(14 710.60 359.30)" fill="none" stroke="#1e1e1e" stroke-width="1.3"/>
<line x1="699.80" y1="355.60" x2="721.00" y2="363.20" stroke="#1e1e1e" stroke-width="1.1" />
<g transform="translate(717.80,353.60) rotate(-90)"><text x="0.24" y="0.00" font-size="19" textLength="6.49" lengthAdjust="spacingAndGlyphs" fill="#1e1e1e" stroke="#1e1e1e" stroke-width="0.65">2</text><text x="7.22" y="0.00" font-size="19" textLength="6.49" lengthAdjust="spacingAndGlyphs" fill="#1e1e1e" stroke="#1e1e1e" stroke-width="0.65">8</text><text x="14.20" y="0.00" font-size="19" textLength="6.49" lengthAdjust="spacingAndGlyphs" fill="#1e1e1e" stroke="#1e1e1e" stroke-width="0.65">0</text><text x="21.18" y="0.00" font-size="19" textLength="6.49" lengthAdjust="spacingAndGlyphs" fill="#1e1e1e" stroke="#1e1e1e" stroke-width="0.65">h</text><text x="28.16" y="0.00" font-size="19" textLength="6.49" lengthAdjust="spacingAndGlyphs" fill="#1e1e1e" stroke="#1e1e1e" stroke-width="0.65">8</text></g>
<ellipse cx="742.80" cy="370.70" rx="6.5" ry="4.7" transform="rotate(14 742.80 370.70)" fill="none" stroke="#1e1e1e" stroke-width="1.3"/>
<line x1="732.00" y1="367.00" x2="753.20" y2="374.60" stroke="#1e1e1e" stroke-width="1.1" />
<g transform="translate(750.00,364.20) rotate(-90)"><text x="0.24" y="0.00" font-size="19" textLength="6.51" lengthAdjust="spacingAndGlyphs" fill="#1e1e1e" stroke="#1e1e1e" stroke-width="0.65">3</text><text x="7.24" y="0.00" font-size="19" textLength="6.51" lengthAdjust="spacingAndGlyphs" fill="#1e1e1e" stroke="#1e1e1e" stroke-width="0.65">0</text><text x="14.24" y="0.00" font-size="19" textLength="6.51" lengthAdjust="spacingAndGlyphs" fill="#1e1e1e" stroke="#1e1e1e" stroke-width="0.65">5</text></g>
<g transform="translate(750.00,340.20) rotate(-90)"><text x="0.27" y="0.00" font-size="19" textLength="7.07" lengthAdjust="spacingAndGlyphs" fill="#1e1e1e" stroke="#1e1e1e" stroke-width="0.65">±</text></g>
<g transform="translate(750.00,329.60) rotate(-90)"><text x="0.25" y="0.00" font-size="19" textLength="6.60" lengthAdjust="spacingAndGlyphs" fill="#1e1e1e" stroke="#1e1e1e" stroke-width="0.65">0</text><circle cx="9.23" cy="-1.00" r="1.25" fill="#1e1e1e"/><text x="14.45" y="0.00" font-size="19" textLength="6.60" lengthAdjust="spacingAndGlyphs" fill="#1e1e1e" stroke="#1e1e1e" stroke-width="0.65">3</text></g>
<ellipse cx="771.80" cy="353.30" rx="6.5" ry="4.7" transform="rotate(14 771.80 353.30)" fill="none" stroke="#1e1e1e" stroke-width="1.3"/>
<line x1="761.00" y1="349.60" x2="782.20" y2="357.20" stroke="#1e1e1e" stroke-width="1.1" />
<g transform="translate(779.00,347.60) rotate(-90)"><text x="0.25" y="0.00" font-size="19" textLength="6.73" lengthAdjust="spacingAndGlyphs" fill="#1e1e1e" stroke="#1e1e1e" stroke-width="0.65">3</text><text x="7.49" y="0.00" font-size="19" textLength="6.73" lengthAdjust="spacingAndGlyphs" fill="#1e1e1e" stroke="#1e1e1e" stroke-width="0.65">3</text><text x="14.72" y="0.00" font-size="19" textLength="6.73" lengthAdjust="spacingAndGlyphs" fill="#1e1e1e" stroke="#1e1e1e" stroke-width="0.65">0</text></g>
<line x1="215.30" y1="409.00" x2="215.30" y2="619.00" stroke="#4a4a4a" stroke-width="1.6" />
<line x1="244.20" y1="590.00" x2="244.20" y2="597.00" stroke="#747474" stroke-width="1.6" />
<line x1="338.50" y1="480.00" x2="338.50" y2="554.00" stroke="#4a4a4a" stroke-width="1.6" />
<line x1="373.30" y1="527.00" x2="373.30" y2="597.00" stroke="#747474" stroke-width="1.6" />
<line x1="396.00" y1="527.00" x2="396.00" y2="569.00" stroke="#747474" stroke-width="1.6" />
<line x1="437.60" y1="533.00" x2="437.60" y2="569.00" stroke="#747474" stroke-width="1.6" />
<line x1="468.00" y1="533.00" x2="468.00" y2="597.00" stroke="#747474" stroke-width="1.6" />
<line x1="490.60" y1="503.00" x2="490.60" y2="569.00" stroke="#505050" stroke-width="1.5" />
<line x1="688.50" y1="502.00" x2="688.50" y2="619.00" stroke="#505050" stroke-width="1.6" />
<line x1="338.50" y1="551.00" x2="373.30" y2="551.00" stroke="#747474" stroke-width="1.6" />
<polygon points="338.50,551.00 344.50,549.40 344.50,552.60" fill="#2a2a2a"/>
<polygon points="373.30,551.00 367.30,552.60 367.30,549.40" fill="#2a2a2a"/>
<line x1="269.80" y1="564.70" x2="373.30" y2="564.70" stroke="#747474" stroke-width="1.6" />
<polygon points="269.80,564.70 278.80,563.10 278.80,566.30" fill="#2a2a2a"/>
<polygon points="373.30,564.70 364.30,566.30 364.30,563.10" fill="#2a2a2a"/>
<line x1="373.30" y1="564.70" x2="396.00" y2="564.70" stroke="#747474" stroke-width="1.6" />
<polygon points="373.30,564.70 379.30,563.10 379.30,566.30" fill="#2a2a2a"/>
<polygon points="396.00,564.70 390.00,566.30 390.00,563.10" fill="#2a2a2a"/>
<line x1="437.60" y1="565.00" x2="468.00" y2="565.00" stroke="#747474" stroke-width="1.6" />
<polygon points="437.60,565.00 444.10,563.40 444.10,566.60" fill="#2a2a2a"/>
<polygon points="468.00,565.00 461.50,566.60 461.50,563.40" fill="#2a2a2a"/>
<line x1="468.00" y1="565.00" x2="490.60" y2="565.00" stroke="#747474" stroke-width="1.6" />
<polygon points="468.00,565.00 474.00,563.40 474.00,566.60" fill="#2a2a2a"/>
<polygon points="490.60,565.00 484.60,566.60 484.60,563.40" fill="#2a2a2a"/>
<line x1="244.20" y1="592.80" x2="373.30" y2="592.80" stroke="#747474" stroke-width="1.6" />
<polygon points="244.20,592.80 253.20,591.20 253.20,594.40" fill="#2a2a2a"/>
<polygon points="373.30,592.80 364.30,594.40 364.30,591.20" fill="#2a2a2a"/>
<line x1="373.30" y1="592.80" x2="468.00" y2="592.80" stroke="#747474" stroke-width="1.6" />
<polygon points="373.30,592.80 382.30,591.20 382.30,594.40" fill="#2a2a2a"/>
<polygon points="468.00,592.80 459.00,594.40 459.00,591.20" fill="#2a2a2a"/>
<line x1="468.00" y1="592.80" x2="688.50" y2="592.80" stroke="#747474" stroke-width="1.6" />
<polygon points="468.00,592.80 477.00,591.20 477.00,594.40" fill="#2a2a2a"/>
<polygon points="688.50,592.80 679.50,594.40 679.50,591.20" fill="#2a2a2a"/>
<line x1="215.30" y1="615.20" x2="688.50" y2="615.20" stroke="#747474" stroke-width="1.6" />
<polygon points="215.30,615.20 224.30,613.60 224.30,616.80" fill="#2a2a2a"/>
<polygon points="688.50,615.20 679.50,616.80 679.50,613.60" fill="#2a2a2a"/>
<text x="349.73" y="548.70" font-size="19" textLength="6.04" lengthAdjust="spacingAndGlyphs" fill="#1e1e1e" stroke="#1e1e1e" stroke-width="0.65">3</text><text x="356.23" y="548.70" font-size="19" textLength="6.04" lengthAdjust="spacingAndGlyphs" fill="#1e1e1e" stroke="#1e1e1e" stroke-width="0.65">0</text>
<text x="308.24" y="561.70" font-size="19" textLength="6.28" lengthAdjust="spacingAndGlyphs" fill="#1e1e1e" stroke="#1e1e1e" stroke-width="0.65">3</text><text x="314.99" y="561.70" font-size="19" textLength="6.28" lengthAdjust="spacingAndGlyphs" fill="#1e1e1e" stroke="#1e1e1e" stroke-width="0.65">5</text><circle cx="323.52" cy="560.70" r="1.25" fill="#1e1e1e"/><text x="328.49" y="561.70" font-size="19" textLength="6.28" lengthAdjust="spacingAndGlyphs" fill="#1e1e1e" stroke="#1e1e1e" stroke-width="0.65">6</text>
<text x="377.74" y="561.70" font-size="19" textLength="6.28" lengthAdjust="spacingAndGlyphs" fill="#1e1e1e" stroke="#1e1e1e" stroke-width="0.65">2</text><text x="384.49" y="561.70" font-size="19" textLength="6.28" lengthAdjust="spacingAndGlyphs" fill="#1e1e1e" stroke="#1e1e1e" stroke-width="0.65">0</text>
<text x="446.74" y="561.70" font-size="19" textLength="6.28" lengthAdjust="spacingAndGlyphs" fill="#1e1e1e" stroke="#1e1e1e" stroke-width="0.65">2</text><text x="453.49" y="561.70" font-size="19" textLength="6.28" lengthAdjust="spacingAndGlyphs" fill="#1e1e1e" stroke="#1e1e1e" stroke-width="0.65">6</text>
<text x="474.23" y="561.70" font-size="19" textLength="6.04" lengthAdjust="spacingAndGlyphs" fill="#1e1e1e" stroke="#1e1e1e" stroke-width="0.65">2</text><text x="480.73" y="561.70" font-size="19" textLength="6.04" lengthAdjust="spacingAndGlyphs" fill="#1e1e1e" stroke="#1e1e1e" stroke-width="0.65">0</text>
<text x="291.74" y="590.00" font-size="19" textLength="6.42" lengthAdjust="spacingAndGlyphs" fill="#1e1e1e" stroke="#1e1e1e" stroke-width="0.65">1</text><text x="298.64" y="590.00" font-size="19" textLength="6.42" lengthAdjust="spacingAndGlyphs" fill="#1e1e1e" stroke="#1e1e1e" stroke-width="0.65">1</text><text x="305.54" y="590.00" font-size="19" textLength="6.42" lengthAdjust="spacingAndGlyphs" fill="#1e1e1e" stroke="#1e1e1e" stroke-width="0.65">1</text><circle cx="314.27" cy="589.00" r="1.25" fill="#1e1e1e"/><text x="319.34" y="590.00" font-size="19" textLength="6.42" lengthAdjust="spacingAndGlyphs" fill="#1e1e1e" stroke="#1e1e1e" stroke-width="0.65">2</text>
<text x="413.25" y="590.00" font-size="19" textLength="6.51" lengthAdjust="spacingAndGlyphs" fill="#1e1e1e" stroke="#1e1e1e" stroke-width="0.65">8</text><text x="420.25" y="590.00" font-size="19" textLength="6.51" lengthAdjust="spacingAndGlyphs" fill="#1e1e1e" stroke="#1e1e1e" stroke-width="0.65">2</text>
<text x="568.93" y="590.00" font-size="19" textLength="6.14" lengthAdjust="spacingAndGlyphs" fill="#1e1e1e" stroke="#1e1e1e" stroke-width="0.65">1</text><text x="575.53" y="590.00" font-size="19" textLength="6.14" lengthAdjust="spacingAndGlyphs" fill="#1e1e1e" stroke="#1e1e1e" stroke-width="0.65">9</text><text x="582.13" y="590.00" font-size="19" textLength="6.14" lengthAdjust="spacingAndGlyphs" fill="#1e1e1e" stroke="#1e1e1e" stroke-width="0.65">0</text>
<text x="442.23" y="613.00" font-size="19" textLength="6.20" lengthAdjust="spacingAndGlyphs" fill="#1e1e1e" stroke="#1e1e1e" stroke-width="0.65">4</text><text x="448.90" y="613.00" font-size="19" textLength="6.20" lengthAdjust="spacingAndGlyphs" fill="#1e1e1e" stroke="#1e1e1e" stroke-width="0.65">0</text><text x="455.57" y="613.00" font-size="19" textLength="6.20" lengthAdjust="spacingAndGlyphs" fill="#1e1e1e" stroke="#1e1e1e" stroke-width="0.65">8</text>
</g>
<g id="labels2">
<text x="323.94" y="125.50" font-size="19" textLength="6.32" lengthAdjust="spacingAndGlyphs" fill="#1e1e1e" stroke="#1e1e1e" stroke-width="0.65">2</text><text x="330.74" y="125.50" font-size="19" textLength="6.32" lengthAdjust="spacingAndGlyphs" fill="#1e1e1e" stroke="#1e1e1e" stroke-width="0.65">0</text><line x1="337.84" y1="120.48" x2="343.56" y2="120.48" stroke="#1e1e1e" stroke-width="1.5"/><text x="344.34" y="125.50" font-size="19" font-weight="bold" textLength="6.32" lengthAdjust="spacingAndGlyphs" fill="#1e1e1e" stroke="#1e1e1e" stroke-width="0.65">M</text><text x="351.14" y="125.50" font-size="19" textLength="6.32" lengthAdjust="spacingAndGlyphs" fill="#1e1e1e" stroke="#1e1e1e" stroke-width="0.65">2</text><text x="357.94" y="125.50" font-size="19" textLength="6.32" lengthAdjust="spacingAndGlyphs" fill="#1e1e1e" stroke="#1e1e1e" stroke-width="0.65">0</text>
<g transform="translate(365.80,110.50) scale(0.1260,0.1700)" fill="none" stroke="#1e1e1e" stroke-width="10.14" stroke-linecap="round" stroke-linejoin="round">
<path d="M4,36 H38"/>
<path d="M21,10 V72"/>
<path d="M2,80 L40,66"/>
<path d="M58,4 L44,40"/>
<path d="M52,22 H92 V78 Q92,94 76,88"/>
<path d="M60,42 L72,52"/>
<path d="M54,72 L78,58"/>
</g>
<g transform="translate(378.80,110.50) scale(0.1260,0.1700)" fill="none" stroke="#1e1e1e" stroke-width="10.14" stroke-linecap="round" stroke-linejoin="round">
<path d="M5,28 H96"/>
<path d="M56,4 L14,58"/>
<path d="M30,50 V90"/>
<path d="M30,50 H82 V84 Q82,92 70,87"/>
<path d="M56,34 V99"/>
</g>
<text x="395.21" y="125.50" font-size="19" textLength="5.58" lengthAdjust="spacingAndGlyphs" fill="#1e1e1e" stroke="#1e1e1e" stroke-width="0.65">(</text><text x="401.21" y="125.50" font-size="19" textLength="5.58" lengthAdjust="spacingAndGlyphs" fill="#1e1e1e" stroke="#1e1e1e" stroke-width="0.65">e</text><circle cx="408.80" cy="124.50" r="1.25" fill="#1e1e1e"/><text x="413.21" y="125.50" font-size="19" textLength="5.58" lengthAdjust="spacingAndGlyphs" fill="#1e1e1e" stroke="#1e1e1e" stroke-width="0.65">q</text><text x="419.21" y="125.50" font-size="19" textLength="5.58" lengthAdjust="spacingAndGlyphs" fill="#1e1e1e" stroke="#1e1e1e" stroke-width="0.65">)</text>
<text x="483.23" y="109.00" font-size="19" textLength="6.23" lengthAdjust="spacingAndGlyphs" fill="#1e1e1e" stroke="#1e1e1e" stroke-width="0.65">2</text><text x="489.93" y="109.00" font-size="19" textLength="6.23" lengthAdjust="spacingAndGlyphs" fill="#1e1e1e" stroke="#1e1e1e" stroke-width="0.65">0</text><line x1="496.94" y1="103.98" x2="502.56" y2="103.98" stroke="#1e1e1e" stroke-width="1.5"/><text x="503.33" y="109.00" font-size="19" font-weight="bold" textLength="6.23" lengthAdjust="spacingAndGlyphs" fill="#1e1e1e" stroke="#1e1e1e" stroke-width="0.65">M</text><text x="510.03" y="109.00" font-size="19" textLength="6.23" lengthAdjust="spacingAndGlyphs" fill="#1e1e1e" stroke="#1e1e1e" stroke-width="0.65">1</text><text x="516.73" y="109.00" font-size="19" textLength="6.23" lengthAdjust="spacingAndGlyphs" fill="#1e1e1e" stroke="#1e1e1e" stroke-width="0.65">6</text>
<g transform="translate(524.80,94.00) scale(0.1260,0.1700)" fill="none" stroke="#1e1e1e" stroke-width="10.14" stroke-linecap="round" stroke-linejoin="round">
<path d="M4,36 H38"/>
<path d="M21,10 V72"/>
<path d="M2,80 L40,66"/>
<path d="M58,4 L44,40"/>
<path d="M52,22 H92 V78 Q92,94 76,88"/>
<path d="M60,42 L72,52"/>
<path d="M54,72 L78,58"/>
</g>
<g transform="translate(537.80,94.00) scale(0.1260,0.1700)" fill="none" stroke="#1e1e1e" stroke-width="10.14" stroke-linecap="round" stroke-linejoin="round">
<path d="M5,28 H96"/>
<path d="M56,4 L14,58"/>
<path d="M30,50 V90"/>
<path d="M30,50 H82 V84 Q82,92 70,87"/>
<path d="M56,34 V99"/>
</g>
<text x="555.21" y="109.00" font-size="19" textLength="5.58" lengthAdjust="spacingAndGlyphs" fill="#1e1e1e" stroke="#1e1e1e" stroke-width="0.65">(</text><text x="561.21" y="109.00" font-size="19" textLength="5.58" lengthAdjust="spacingAndGlyphs" fill="#1e1e1e" stroke="#1e1e1e" stroke-width="0.65">e</text><circle cx="568.80" cy="108.00" r="1.25" fill="#1e1e1e"/><text x="573.21" y="109.00" font-size="19" textLength="5.58" lengthAdjust="spacingAndGlyphs" fill="#1e1e1e" stroke="#1e1e1e" stroke-width="0.65">q</text><text x="579.21" y="109.00" font-size="19" textLength="5.58" lengthAdjust="spacingAndGlyphs" fill="#1e1e1e" stroke="#1e1e1e" stroke-width="0.65">)</text>
<text x="795.74" y="173.70" font-size="19" textLength="6.46" lengthAdjust="spacingAndGlyphs" fill="#1e1e1e" stroke="#1e1e1e" stroke-width="0.65">P</text><text x="802.69" y="173.70" font-size="19" textLength="6.46" lengthAdjust="spacingAndGlyphs" fill="#1e1e1e" stroke="#1e1e1e" stroke-width="0.65">s</text><line x1="809.94" y1="168.68" x2="815.78" y2="168.68" stroke="#1e1e1e" stroke-width="1.5"/><text x="816.58" y="173.70" font-size="19" textLength="6.46" lengthAdjust="spacingAndGlyphs" fill="#1e1e1e" stroke="#1e1e1e" stroke-width="0.65">P</text><text x="823.52" y="173.70" font-size="19" textLength="6.46" lengthAdjust="spacingAndGlyphs" fill="#1e1e1e" stroke="#1e1e1e" stroke-width="0.65">F</text><text x="830.47" y="173.70" font-size="19" textLength="6.46" lengthAdjust="spacingAndGlyphs" fill="#1e1e1e" stroke="#1e1e1e" stroke-width="0.65">1</text><line x1="837.31" y1="175.30" x2="843.97" y2="158.96" stroke="#1e1e1e" stroke-width="1.3"/><text x="844.35" y="173.70" font-size="19" textLength="6.46" lengthAdjust="spacingAndGlyphs" fill="#1e1e1e" stroke="#1e1e1e" stroke-width="0.65">4</text><line x1="852.93" y1="160.96" x2="852.93" y2="164.56" stroke="#1e1e1e" stroke-width="1.2"/><line x1="855.03" y1="160.96" x2="855.03" y2="164.56" stroke="#1e1e1e" stroke-width="1.2"/>
<line x1="795.50" y1="178.70" x2="851.00" y2="178.70" stroke="#747474" stroke-width="1.6" />
<line x1="851.00" y1="178.70" x2="914.50" y2="294.00" stroke="#555" stroke-width="1.4" />
<text x="941.25" y="61.00" font-size="19" textLength="6.65" lengthAdjust="spacingAndGlyphs" fill="#1e1e1e" stroke="#1e1e1e" stroke-width="0.65">P</text><text x="948.40" y="61.00" font-size="19" textLength="6.65" lengthAdjust="spacingAndGlyphs" fill="#1e1e1e" stroke="#1e1e1e" stroke-width="0.65">2</text>
<g transform="translate(957.30,50.50) scale(0.0880,0.1100)" fill="none" stroke="#1e1e1e" stroke-width="15.15" stroke-linecap="round" stroke-linejoin="round">
<path d="M4,4 V96"/>
<path d="M4,4 H96 V96"/>
<path d="M4,92 H96"/>
</g>
<g transform="translate(968.60,46.00) scale(0.1400,0.1700)" fill="none" stroke="#1e1e1e" stroke-width="9.68" stroke-linecap="round" stroke-linejoin="round">
<path d="M10,12 L20,24"/>
<path d="M5,42 H22 L12,72"/>
<path d="M3,72 C25,88 50,90 97,90"/>
<path d="M36,28 H92"/>
<path d="M30,52 H96"/>
<path d="M52,6 C52,48 48,64 34,78"/>
<path d="M76,6 V80"/>
</g>
<g transform="translate(983.60,46.00) scale(0.1180,0.1700)" fill="none" stroke="#1e1e1e" stroke-width="10.42" stroke-linecap="round" stroke-linejoin="round">
<path d="M10,12 L20,24"/>
<path d="M4,38 L14,50"/>
<path d="M6,90 L20,60"/>
<path d="M36,30 V92"/>
<path d="M36,30 H92 V92"/>
<path d="M36,60 H92"/>
<path d="M36,90 H92"/>
<path d="M63,4 V90"/>
</g>
<text x="1048.44" y="61.00" font-size="19" textLength="6.42" lengthAdjust="spacingAndGlyphs" fill="#1e1e1e" stroke="#1e1e1e" stroke-width="0.65">P</text><text x="1055.34" y="61.00" font-size="19" textLength="6.42" lengthAdjust="spacingAndGlyphs" fill="#1e1e1e" stroke="#1e1e1e" stroke-width="0.65">1</text>
<g transform="translate(1065.60,50.50) scale(0.0880,0.1100)" fill="none" stroke="#1e1e1e" stroke-width="15.15" stroke-linecap="round" stroke-linejoin="round">
<path d="M4,4 V96"/>
<path d="M4,4 H96 V96"/>
<path d="M4,92 H96"/>
</g>
<g transform="translate(1076.90,46.00) scale(0.1400,0.1700)" fill="none" stroke="#1e1e1e" stroke-width="9.68" stroke-linecap="round" stroke-linejoin="round">
<path d="M10,12 L20,24"/>
<path d="M5,42 H22 L12,72"/>
<path d="M3,72 C25,88 50,90 97,90"/>
<path d="M36,28 H92"/>
<path d="M30,52 H96"/>
<path d="M52,6 C52,48 48,64 34,78"/>
<path d="M76,6 V80"/>
</g>
<g transform="translate(1091.90,46.00) scale(0.1180,0.1700)" fill="none" stroke="#1e1e1e" stroke-width="10.42" stroke-linecap="round" stroke-linejoin="round">
<path d="M10,12 L20,24"/>
<path d="M4,38 L14,50"/>
<path d="M6,90 L20,60"/>
<path d="M36,30 V92"/>
<path d="M36,30 H92 V92"/>
<path d="M36,60 H92"/>
<path d="M36,90 H92"/>
<path d="M63,4 V90"/>
</g>
<text x="915.93" y="84.50" font-size="19" textLength="6.16" lengthAdjust="spacingAndGlyphs" fill="#1e1e1e" stroke="#1e1e1e" stroke-width="0.65">P</text><text x="922.56" y="84.50" font-size="19" textLength="6.16" lengthAdjust="spacingAndGlyphs" fill="#1e1e1e" stroke="#1e1e1e" stroke-width="0.65">o</text><text x="929.18" y="84.50" font-size="19" textLength="6.16" lengthAdjust="spacingAndGlyphs" fill="#1e1e1e" stroke="#1e1e1e" stroke-width="0.65">r</text><text x="936.25" y="84.50" font-size="19" textLength="5.28" lengthAdjust="spacingAndGlyphs" fill="#1e1e1e" stroke="#1e1e1e" stroke-width="0.65">t</text>
<text x="951.61" y="84.50" font-size="19" textLength="5.58" lengthAdjust="spacingAndGlyphs" fill="#1e1e1e" stroke="#1e1e1e" stroke-width="0.65">2</text>
<text x="966.99" y="84.50" font-size="19" textLength="5.28" lengthAdjust="spacingAndGlyphs" fill="#1e1e1e" stroke="#1e1e1e" stroke-width="0.65">i</text><text x="973.09" y="84.50" font-size="19" textLength="6.01" lengthAdjust="spacingAndGlyphs" fill="#1e1e1e" stroke="#1e1e1e" stroke-width="0.65">n</text><text x="979.91" y="84.50" font-size="19" textLength="5.28" lengthAdjust="spacingAndGlyphs" fill="#1e1e1e" stroke="#1e1e1e" stroke-width="0.65">l</text><text x="986.01" y="84.50" font-size="19" textLength="6.01" lengthAdjust="spacingAndGlyphs" fill="#1e1e1e" stroke="#1e1e1e" stroke-width="0.65">e</text><text x="992.83" y="84.50" font-size="19" textLength="5.28" lengthAdjust="spacingAndGlyphs" fill="#1e1e1e" stroke="#1e1e1e" stroke-width="0.65">t</text>
<text x="1048.44" y="84.50" font-size="19" textLength="6.32" lengthAdjust="spacingAndGlyphs" fill="#1e1e1e" stroke="#1e1e1e" stroke-width="0.65">P</text><text x="1055.24" y="84.50" font-size="19" textLength="6.32" lengthAdjust="spacingAndGlyphs" fill="#1e1e1e" stroke="#1e1e1e" stroke-width="0.65">o</text><text x="1062.04" y="84.50" font-size="19" textLength="6.32" lengthAdjust="spacingAndGlyphs" fill="#1e1e1e" stroke="#1e1e1e" stroke-width="0.65">r</text><text x="1069.36" y="84.50" font-size="19" textLength="5.28" lengthAdjust="spacingAndGlyphs" fill="#1e1e1e" stroke="#1e1e1e" stroke-width="0.65">t</text>
<text x="1085.36" y="84.50" font-size="19" font-weight="bold" textLength="4.37" lengthAdjust="spacingAndGlyphs" fill="#1e1e1e" stroke="#1e1e1e" stroke-width="0.65">1</text>
<text x="1099.49" y="84.50" font-size="19" textLength="5.28" lengthAdjust="spacingAndGlyphs" fill="#1e1e1e" stroke="#1e1e1e" stroke-width="0.65">i</text><text x="1105.59" y="84.50" font-size="19" textLength="6.01" lengthAdjust="spacingAndGlyphs" fill="#1e1e1e" stroke="#1e1e1e" stroke-width="0.65">n</text><text x="1112.41" y="84.50" font-size="19" textLength="5.28" lengthAdjust="spacingAndGlyphs" fill="#1e1e1e" stroke="#1e1e1e" stroke-width="0.65">l</text><text x="1118.51" y="84.50" font-size="19" textLength="6.01" lengthAdjust="spacingAndGlyphs" fill="#1e1e1e" stroke="#1e1e1e" stroke-width="0.65">e</text><text x="1125.33" y="84.50" font-size="19" textLength="5.28" lengthAdjust="spacingAndGlyphs" fill="#1e1e1e" stroke="#1e1e1e" stroke-width="0.65">t</text>
<path d="M1001.7,97.2 C992,97 984,98.4 976.3,101.2 L972.4,97 L960.4,108.2 L978,113.8 L977,108 C985,105.6 993,104.2 1001.7,104 Z" stroke="#1e1e1e" stroke-width="2.1" fill="none" stroke-linejoin="miter"/>
<path d="M1047,97.2 C1057,97.5 1066,99 1073.6,101.4 L1075.9,95.8 L1089.4,108.8 L1071,114.6 L1072.4,108.6 C1064,106 1056,105 1047,104.8 Z" stroke="#1e1e1e" stroke-width="1" fill="#1e1e1e" />
<line x1="933.60" y1="418.00" x2="933.60" y2="583.00" stroke="#555" stroke-width="1.5" />
<line x1="1120.30" y1="437.00" x2="1120.30" y2="583.00" stroke="#555" stroke-width="1.5" />
<line x1="933.60" y1="579.00" x2="1028.80" y2="579.00" stroke="#747474" stroke-width="1.6" />
<polygon points="933.60,579.00 942.60,577.40 942.60,580.60" fill="#2a2a2a"/>
<polygon points="1028.80,579.00 1019.80,580.60 1019.80,577.40" fill="#2a2a2a"/>
<line x1="1028.80" y1="579.00" x2="1120.30" y2="579.00" stroke="#747474" stroke-width="1.6" />
<polygon points="1028.80,579.00 1037.80,577.40 1037.80,580.60" fill="#2a2a2a"/>
<polygon points="1120.30,579.00 1111.30,580.60 1111.30,577.40" fill="#2a2a2a"/>
<text x="967.24" y="575.60" font-size="19" textLength="6.39" lengthAdjust="spacingAndGlyphs" fill="#1e1e1e" stroke="#1e1e1e" stroke-width="0.65">8</text><text x="974.12" y="575.60" font-size="19" textLength="6.39" lengthAdjust="spacingAndGlyphs" fill="#1e1e1e" stroke="#1e1e1e" stroke-width="0.65">2</text><circle cx="982.81" cy="574.60" r="1.25" fill="#1e1e1e"/><text x="987.87" y="575.60" font-size="19" textLength="6.39" lengthAdjust="spacingAndGlyphs" fill="#1e1e1e" stroke="#1e1e1e" stroke-width="0.65">4</text>
<text x="1061.23" y="575.60" font-size="19" textLength="6.23" lengthAdjust="spacingAndGlyphs" fill="#1e1e1e" stroke="#1e1e1e" stroke-width="0.65">7</text><text x="1067.93" y="575.60" font-size="19" textLength="6.23" lengthAdjust="spacingAndGlyphs" fill="#1e1e1e" stroke="#1e1e1e" stroke-width="0.65">8</text><circle cx="1076.41" cy="574.60" r="1.25" fill="#1e1e1e"/><text x="1081.33" y="575.60" font-size="19" textLength="6.23" lengthAdjust="spacingAndGlyphs" fill="#1e1e1e" stroke="#1e1e1e" stroke-width="0.65">4</text>
</g>
</svg>
</body></html>
